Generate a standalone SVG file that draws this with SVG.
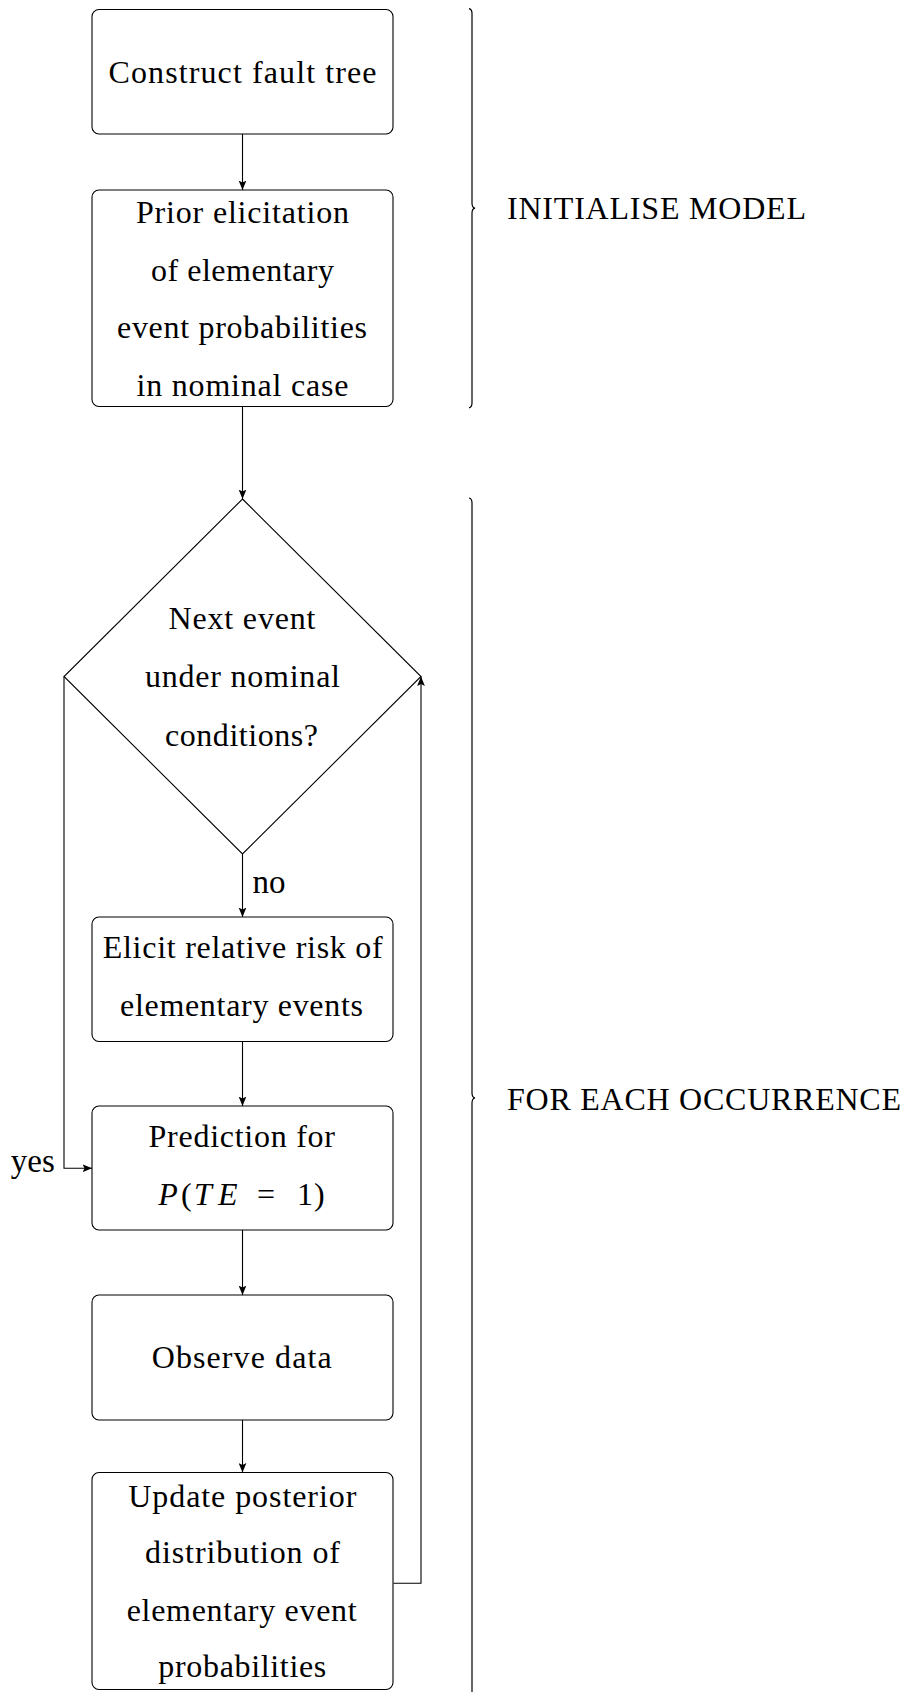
<svg xmlns="http://www.w3.org/2000/svg" width="917" height="1692" viewBox="0 0 917 1692">
  <style>
    .box { fill: #fff; stroke: #000; stroke-width: 1.1; }
    .edge { fill: none; stroke: #000; stroke-width: 1.1; }
    .brace { fill: none; stroke: #000; stroke-width: 1.2; }
    .m { font-style: italic; }
  </style>
  <defs>
    <marker id="arrow" markerUnits="userSpaceOnUse" markerWidth="10" markerHeight="8" viewBox="0 0 9 7" refX="8.5" refY="3.5" orient="auto">
      <path d="M0,0 L8.5,3.5 L0,7 L1.8,3.5 Z" fill="#000"/>
    </marker>
  </defs>

  <rect width="917" height="1692" fill="#fff"/>

  <g font-family="'Liberation Serif', 'DejaVu Serif', serif" font-size="32" fill="#000">

  <!-- connectors -->
  <g id="connectors">
    <path class="edge" d="M242.5,134 V190" marker-end="url(#arrow)"/>
    <path class="edge" d="M242.5,406.5 V499" marker-end="url(#arrow)"/>
    <path class="edge" d="M242.5,854 V917" marker-end="url(#arrow)"/>
    <path class="edge" d="M242.5,1041.5 V1106" marker-end="url(#arrow)"/>
    <path class="edge" d="M242.5,1230 V1295" marker-end="url(#arrow)"/>
    <path class="edge" d="M242.5,1420 V1472.5" marker-end="url(#arrow)"/>
    <!-- yes branch -->
    <path class="edge" d="M64,676.5 V1168.3 H92" marker-end="url(#arrow)"/>
    <!-- loop back to decision -->
    <path class="edge" d="M393.5,1583.3 H421 V676.5" marker-end="url(#arrow)"/>
    <text x="252.5" y="892.7" font-size="33">no</text>
    <text x="10.8" y="1171.5" font-size="33">yes</text>
  </g>

  <g id="construct">
    <rect class="box" x="92" y="9.5" width="301" height="124.5" rx="7"/>
    <text x="108.5" y="82.7" textLength="268" lengthAdjust="spacing">Construct fault tree</text>
  </g>

  <g id="prior">
    <rect class="box" x="92" y="190" width="301" height="216.5" rx="7"/>
    <text x="136" y="223" textLength="213" lengthAdjust="spacing">Prior elicitation</text>
    <text x="151" y="280.5" textLength="183" lengthAdjust="spacing">of elementary</text>
    <text x="117" y="338" textLength="250" lengthAdjust="spacing">event probabilities</text>
    <text x="136.5" y="395.5" textLength="212" lengthAdjust="spacing">in nominal case</text>
  </g>

  <g id="decision">
    <path class="box" d="M242.5,499 L421,676.5 L242.5,854 L64,676.5 Z"/>
    <text x="168.5" y="629.3" textLength="147" lengthAdjust="spacing">Next event</text>
    <text x="145" y="687.3" textLength="195" lengthAdjust="spacing">under nominal</text>
    <text x="165" y="745.7" textLength="153" lengthAdjust="spacing">conditions?</text>
  </g>

  <g id="elicit">
    <rect class="box" x="92" y="917" width="301" height="124.5" rx="7"/>
    <text x="102.7" y="958.3" textLength="280" lengthAdjust="spacing">Elicit relative risk of</text>
    <text x="120" y="1016" textLength="243" lengthAdjust="spacing">elementary events</text>
  </g>

  <g id="prediction">
    <rect class="box" x="92" y="1106" width="301" height="124" rx="7"/>
    <text x="148.5" y="1146.7" textLength="186.5" lengthAdjust="spacing">Prediction for</text>
    <text y="1205"><tspan class="m" x="158.3">P</tspan><tspan x="181">(</tspan><tspan class="m" x="194">T</tspan><tspan class="m" x="218">E</tspan><tspan x="257">=</tspan><tspan x="297">1</tspan><tspan x="314">)</tspan></text>
  </g>

  <g id="observe">
    <rect class="box" x="92" y="1295" width="301" height="125" rx="7"/>
    <text x="151.7" y="1368.3" textLength="180" lengthAdjust="spacing">Observe data</text>
  </g>

  <g id="update">
    <rect class="box" x="92" y="1472.5" width="301" height="217" rx="7"/>
    <text x="128.3" y="1506.7" textLength="228" lengthAdjust="spacing">Update posterior</text>
    <text x="145" y="1563.3" textLength="195" lengthAdjust="spacing">distribution of</text>
    <text x="126.7" y="1620.7" textLength="230" lengthAdjust="spacing">elementary event</text>
    <text x="158.3" y="1676.7" textLength="168" lengthAdjust="spacing">probabilities</text>
  </g>

  <!-- phase braces -->
  <g id="phase-init">
    <path class="brace" d="M469,8.6 C471.5,9 472,10.5 472,13.6 V203.2 C472,206.5 473,207.8 475,208.2 C473,208.6 472,210 472,213.2 V402.8 C472,406 471.5,407.4 469,407.8"/>
    <text x="507" y="218.5" textLength="299" lengthAdjust="spacing">INITIALISE MODEL</text>
  </g>
  <g id="phase-loop">
    <path class="brace" d="M469,498 C471.5,498.4 472,500 472,503 V1093 C472,1096.3 473,1097.6 475,1098 C473,1098.4 472,1099.7 472,1103 V1693 C472,1696 471.5,1697.6 469,1698"/>
    <text x="507" y="1110" textLength="394" lengthAdjust="spacing">FOR EACH OCCURRENCE</text>
  </g>

  </g>
</svg>
